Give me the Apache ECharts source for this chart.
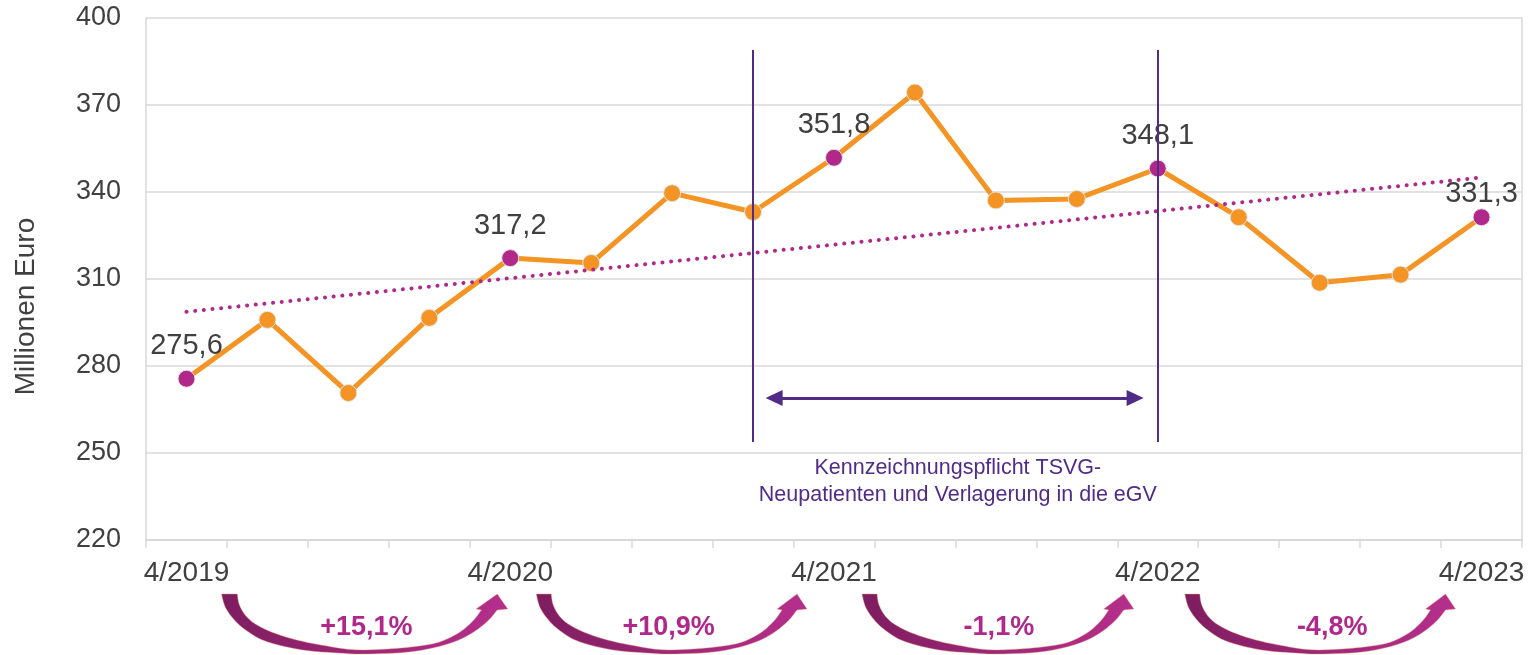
<!DOCTYPE html>
<html>
<head>
<meta charset="utf-8">
<script src="https://cdn.jsdelivr.net/npm/echarts@6/dist/echarts.min.js"></script>
<style>
html,body{margin:0;padding:0;background:#ffffff;}
#chart{width:1531px;height:655px;}
</style>
</head>
<body>
<div id="chart"></div>
<script>
// ---------- data ----------
const categories = ['4/2019','1/2020','2/2020','3/2020','4/2020','1/2021','2/2021','3/2021','4/2021','1/2022','2/2022','3/2022','4/2022','1/2023','2/2023','3/2023','4/2023'];
const values = [275.6,295.9,270.7,296.6,317.2,315.5,339.6,333.1,351.8,374.3,337.1,337.6,348.1,331.3,308.7,311.5,331.3];
const highlightIdx = [0,4,8,12,16];
const trendIdx = [0,16];
const trendValues = [298.7,345.0];
const yMin = 220, yMax = 400, yStep = 30;
const changeLabels = ['+15,1%','+10,9%','-1,1%','-4,8%'];
const periodIdx = [7,12];
const annotationLines = ['Kennzeichnungspflicht TSVG-','Neupatienten und Verlagerung in die eGV'];
const yAxisTitle = 'Millionen Euro';

// ---------- styles ----------
const ORANGE = '#F39425';
const MAGENTA = '#B0298A';
const PURPLE = '#512B88';
const TEXT = '#404040';
const GRID = '#D9D9D9';
const FONT = '"Liberation Sans", Arial, sans-serif';
const fmt = v => v.toFixed(1).replace('.', ',');

const chart = echarts.init(document.getElementById('chart'), null, {renderer:'canvas'});

const mainData = values.map((v,i) => {
  if (highlightIdx.indexOf(i) >= 0) {
    const item = {value:v, itemStyle:{color:MAGENTA}, label:{show:true}};
    if (i === values.length-1) item.label.distance = 0;
    return item;
  }
  return v;
});

const option = {
  animation:false,
  backgroundColor:'#ffffff',
  grid:{left:146,right:9,top:18,bottom:115,containLabel:false,outerBoundsMode:'none'},
  xAxis:[{
    type:'category',
    data:categories,
    boundaryGap:true,
    axisLine:{show:true,lineStyle:{color:GRID,width:2}},
    axisTick:{show:true,interval:0,length:8,lineStyle:{color:GRID,width:1.5}},
    axisLabel:{interval:3,fontSize:28,color:TEXT,margin:19,fontFamily:FONT},
    splitLine:{show:false}
  },{
    type:'value',min:-0.5,max:16.5,show:false
  }],
  yAxis:[{
    type:'value',min:yMin,max:yMax,interval:yStep,
    name:yAxisTitle,nameLocation:'middle',nameGap:106,
    nameTextStyle:{fontSize:28,color:TEXT,fontFamily:FONT,padding:[0,55,0,0]},
    axisLine:{show:true,onZero:false,lineStyle:{color:GRID,width:1.5}},
    axisTick:{show:false},
    axisLabel:{fontSize:27,color:TEXT,margin:25,fontFamily:FONT},
    splitLine:{show:true,lineStyle:{color:GRID,width:1.5}}
  },{
    type:'value',min:yMin,max:yMax,interval:yStep,position:'right',
    axisLine:{show:true,onZero:false,lineStyle:{color:GRID,width:1.5}},
    axisTick:{show:false},axisLabel:{show:false},splitLine:{show:false}
  }],
  series:[{
    name:'Wert',
    type:'line',
    data:mainData,
    symbol:'circle',
    symbolSize:17,
    lineStyle:{color:ORANGE,width:5},
    itemStyle:{color:ORANGE,borderColor:'#E4E4E4',borderWidth:1},
    label:{show:false,position:'top',distance:9,fontSize:29,color:TEXT,fontFamily:FONT,
      formatter:p => fmt(p.value)},
    z:3
  },{
    name:'Trend',
    type:'line',
    xAxisIndex:1,
    data:trendIdx.map((x,i)=>[x,trendValues[i]]),
    symbol:'none',
    lineStyle:{color:MAGENTA,width:4,type:[0.1,8.6],cap:'round'},
    z:4
  },{
    name:'Markierung',
    type:'line',
    xAxisIndex:1,
    data:[],
    symbol:'none',
    markLine:{
      silent:true,
      symbol:['none','none'],
      label:{show:false},
      lineStyle:{color:PURPLE,width:2,type:'solid'},
      data:[
        [{coord:[periodIdx[0],389]},{coord:[periodIdx[0],253.8]}],
        [{coord:[periodIdx[1],389]},{coord:[periodIdx[1],253.8]}],
        [{coord:[periodIdx[0]+0.26,269],symbol:'triangle',symbolSize:[16,17],lineStyle:{width:3}},
         {coord:[periodIdx[1]-0.28,269],symbol:'triangle',symbolSize:[16,17],lineStyle:{width:3}}]
      ]
    },
    markPoint:{
      silent:true,
      symbol:'rect',symbolSize:1,
      itemStyle:{color:'rgba(0,0,0,0)'},
      label:{show:true,position:'inside',formatter:annotationLines.join('\n'),
        fontSize:21.5,lineHeight:27,color:PURPLE,align:'center',fontFamily:FONT},
      data:[{coord:[(periodIdx[0]+periodIdx[1])/2+0.03,240.3]}]
    },
    z:5
  }]
};
chart.setOption(option);

// ---------- curved growth arrows below the axis ----------
function catmull(pts,n){
  const out=[];
  for(let i=0;i<pts.length-1;i++){
    const p0=pts[Math.max(i-1,0)],p1=pts[i],p2=pts[i+1],p3=pts[Math.min(i+2,pts.length-1)];
    for(let j=0;j<n;j++){
      const t=j/n,t2=t*t,t3=t2*t;
      out.push([0,1].map(k=>0.5*((2*p1[k])+(-p0[k]+p2[k])*t+(2*p0[k]-5*p1[k]+4*p2[k]-p3[k])*t2+(-p0[k]+3*p1[k]-3*p2[k]+p3[k])*t3)));
    }
  }
  out.push(pts[pts.length-1]);
  return out;
}
const OUTER_SHAPE=[[0,0],[4,14],[14,28],[27,39],[44,48],[77,56],[111,59],[134,60],[177,58],[211,51],[234,41],[251,28],[261,16]];
const INNER_SHAPE=[[15,0],[17,11],[24,23],[37,33],[61,43],[94,51],[134,56],[194,51],[221,41],[237,28],[246,16]];
const HEAD_SHAPE=[[271,15],[261,0],[241,15]];
function arrowPoints(x0,y0,W){
  const s=W/261;
  const pts=catmull(OUTER_SHAPE,6).concat(HEAD_SHAPE,catmull(INNER_SHAPE,6).reverse());
  return pts.map(p=>[x0+p[0]*s,y0+p[1]]);
}
const xPix = i => chart.convertToPixel({xAxisIndex:1}, i);
const yBottom = chart.convertToPixel({yAxisIndex:0}, yMin);
const arrowLayout = [
  {dx:35,dxEnd:-13,textDx:7},
  {dx:26,dxEnd:-37,textDx:2},
  {dx:28,dxEnd:-34,textDx:6},
  {dx:27,dxEnd:-36,textDx:17}
];
const graphics=[];
changeLabels.forEach((lab,k)=>{
  const L=arrowLayout[k];
  const x0=xPix(4*k)+L.dx;
  const x1=xPix(4*k+4)+L.dxEnd;
  const W=x1-x0;
  graphics.push({
    type:'polygon',silent:true,z:10,
    shape:{points:arrowPoints(x0,yBottom+54,W)},
    style:{
      fill:new echarts.graphic.LinearGradient(0,0,1,0,[
        {offset:0,color:'#7E1D60'},{offset:0.5,color:'#9D2778'},{offset:1,color:'#B52F8D'}
      ]),
      stroke:'rgba(240,160,120,0.6)',lineWidth:0.7
    }
  });
  graphics.push({
    type:'text',silent:true,z:11,
    x:x0+W/2+L.textDx,y:yBottom+88,
    style:{text:lab,fill:MAGENTA,font:'bold 27px '+FONT,
      textAlign:'center',textVerticalAlign:'middle'}
  });
});
chart.setOption({graphic:graphics});
</script>
</body>
</html>
